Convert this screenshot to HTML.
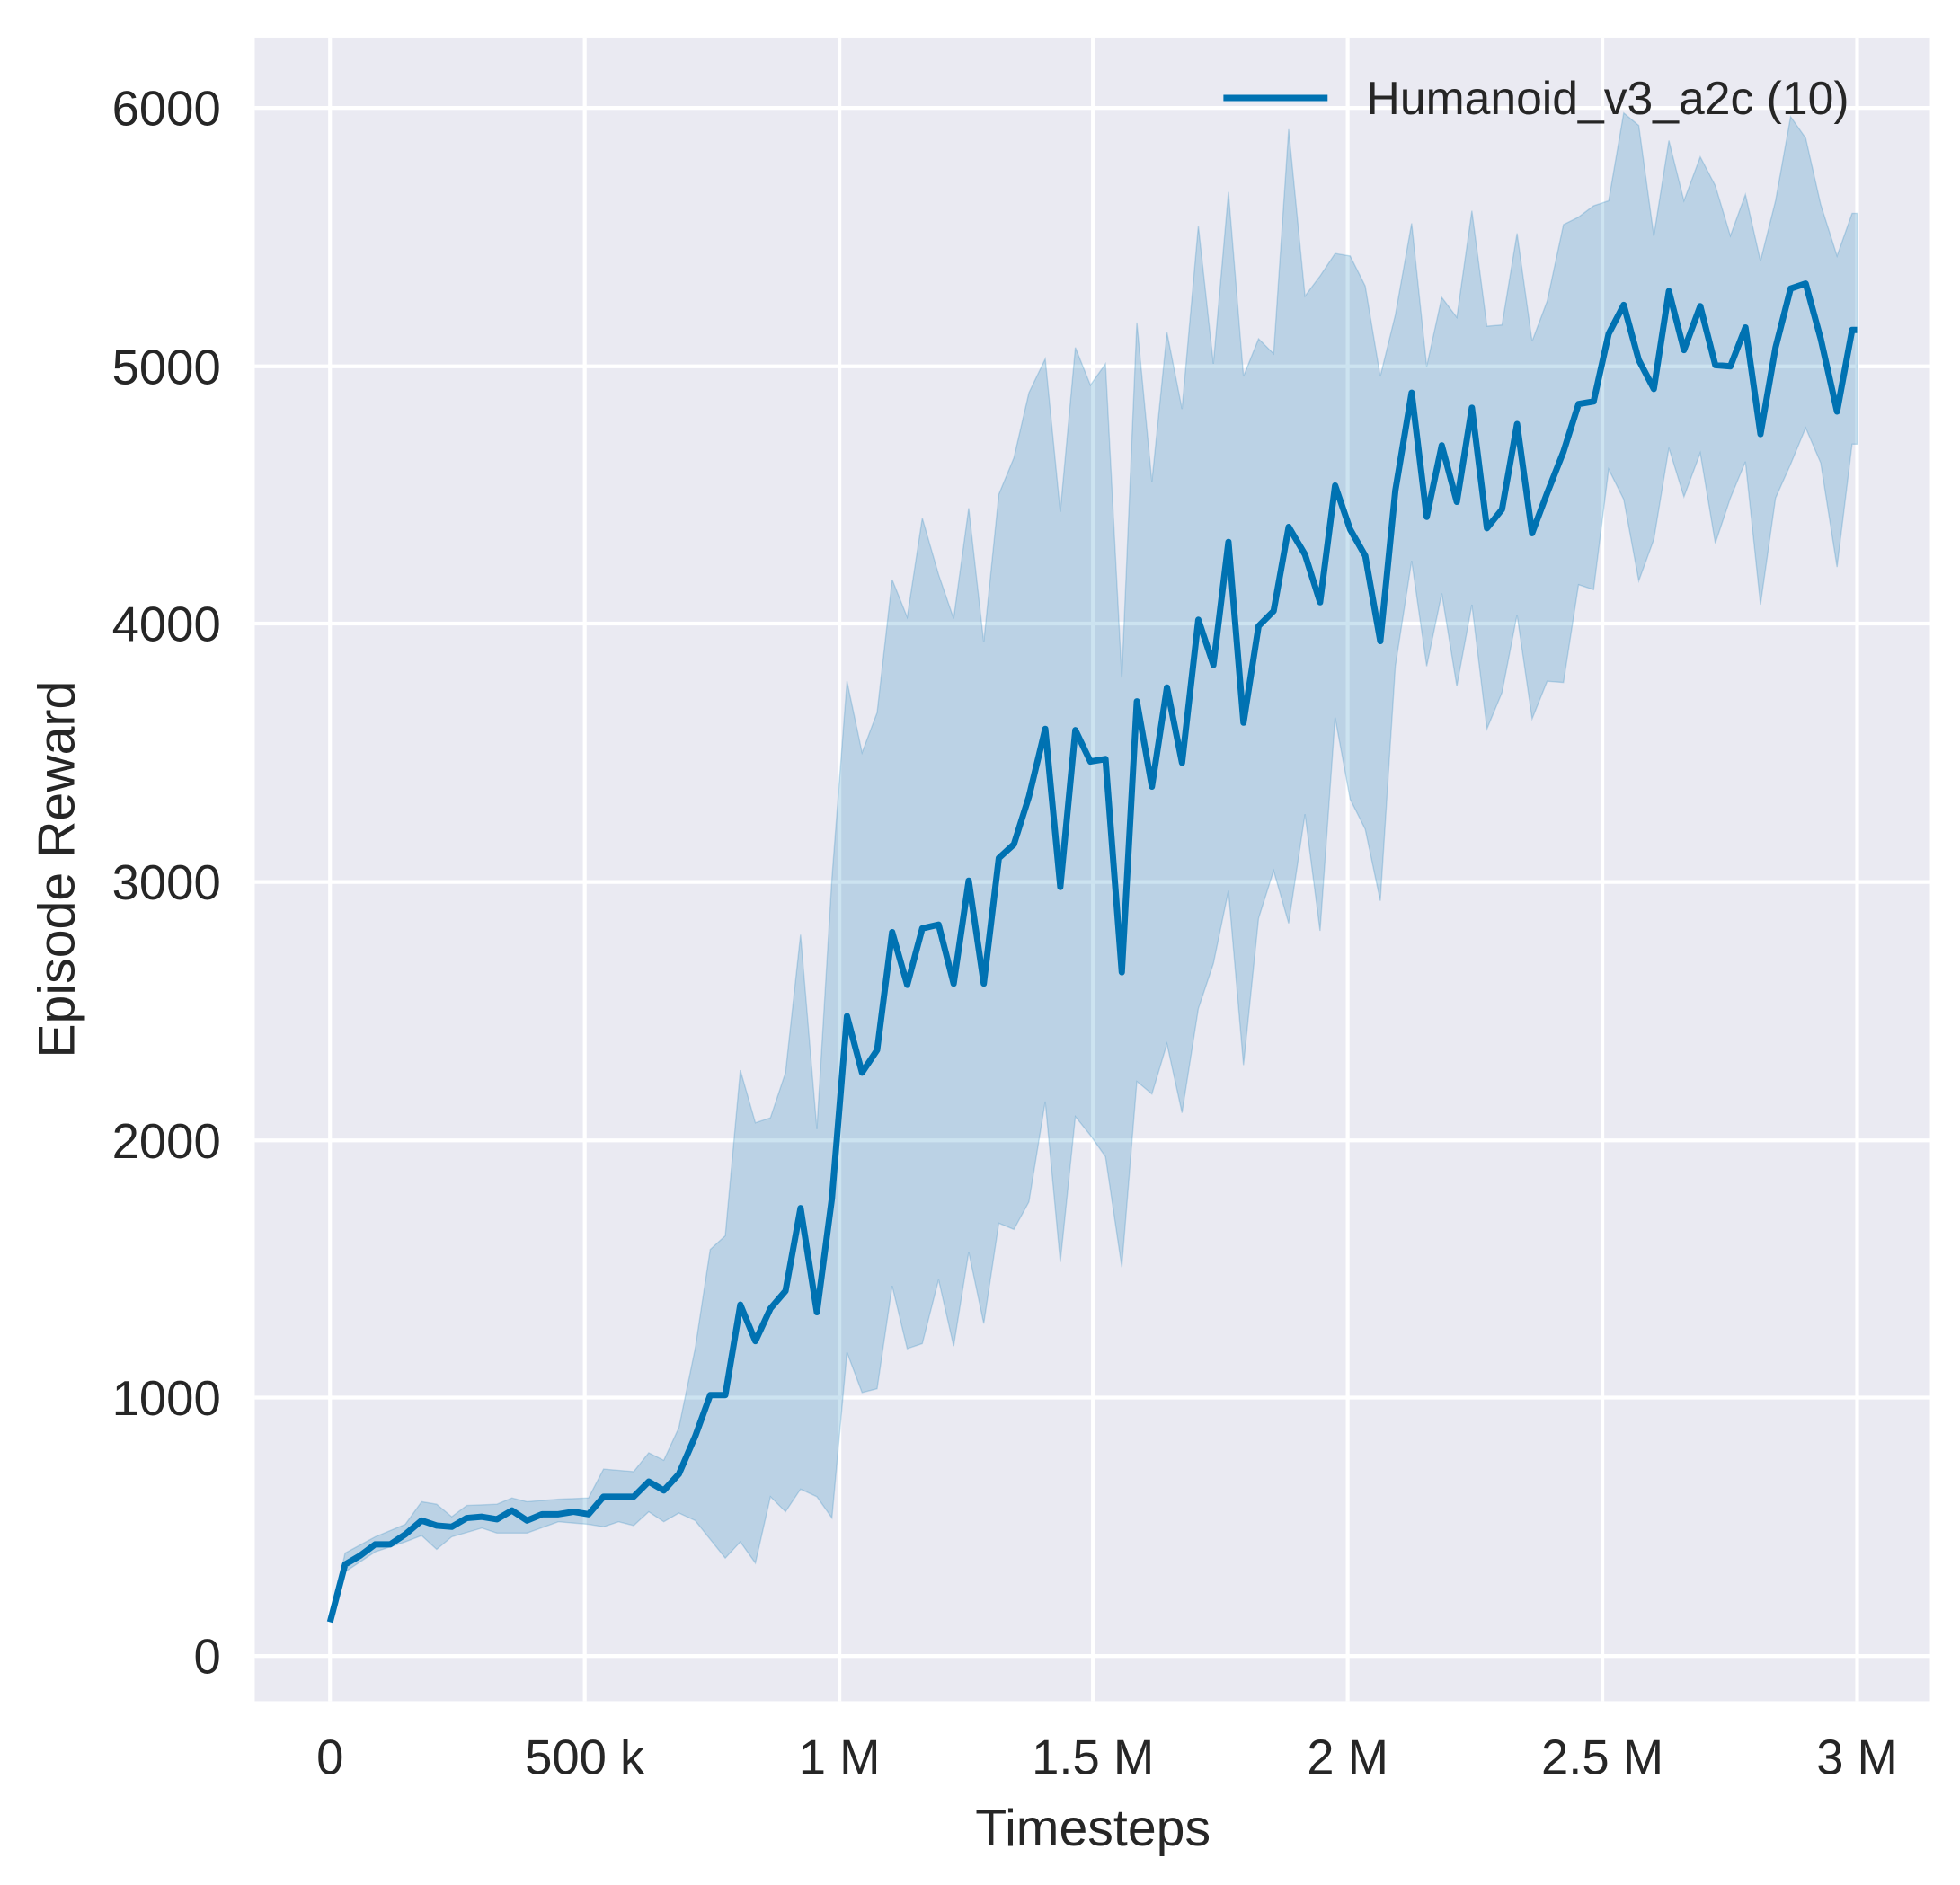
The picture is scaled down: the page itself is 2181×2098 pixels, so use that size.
<!DOCTYPE html>
<html><head><meta charset="utf-8"><style>html,body{margin:0;padding:0;background:#fff}svg{display:block}</style></head>
<body>
<svg width="2181" height="2098" viewBox="0 0 1562 1502.5" xmlns="http://www.w3.org/2000/svg" font-family="Liberation Sans, sans-serif" fill="#262626">
<rect x="0" y="0" width="1562" height="1503" fill="#fff"/>
<rect x="203" y="30" width="1335" height="1326" fill="#eaeaf2"/>
<g stroke="#fff" stroke-width="3">
<line x1="263" y1="30" x2="263" y2="1356"/><line x1="466" y1="30" x2="466" y2="1356"/><line x1="669" y1="30" x2="669" y2="1356"/><line x1="871" y1="30" x2="871" y2="1356"/><line x1="1074" y1="30" x2="1074" y2="1356"/><line x1="1277" y1="30" x2="1277" y2="1356"/><line x1="1480" y1="30" x2="1480" y2="1356"/>
<line x1="203" y1="1320" x2="1538" y2="1320"/><line x1="203" y1="1114" x2="1538" y2="1114"/><line x1="203" y1="909" x2="1538" y2="909"/><line x1="203" y1="703" x2="1538" y2="703"/><line x1="203" y1="497" x2="1538" y2="497"/><line x1="203" y1="292" x2="1538" y2="292"/><line x1="203" y1="86" x2="1538" y2="86"/>
</g>
<polygon fill="#0072b2" fill-opacity="0.2" stroke="#0072b2" stroke-opacity="0.2" points="263,1293 275,1238 299,1225 323,1215 336,1197 348,1199 360,1209 372,1200 396,1199 408,1194 420,1197 445,1195 469,1194 481,1171 505,1173 517,1158 529,1164 541,1138 554,1075 566,996 578,985 590,853 602,895 614,891 626,855 638,745 651,900 663,700 675,543 687,600 699,568 711,462 723,492 735,413 748,458 760,493 772,405 784,512 796,394 808,365 820,313 833,286 845,408 857,277 869,307 881,290 894,540 906,257 918,384 930,265 942,326 955,180 967,290 979,153 991,300 1003,270 1015,282 1027,103 1040,236 1052,220 1064,202 1076,204 1088,228 1100,300 1112,251 1125,178 1137,292 1149,237 1161,253 1173,168 1185,260 1197,259 1209,186 1221,272 1233,240 1246,179 1258,173 1270,164 1282,160 1294,90 1306,100 1318,188 1330,112 1342,160 1355,125 1367,148 1379,188 1391,155 1403,208 1415,160 1427,93 1439,110 1451,163 1464,204 1476,170 1480,170 1480,354 1476,354 1464,452 1451,369 1439,341 1427,370 1415,397 1403,482 1391,368 1379,397 1367,433 1355,361 1342,396 1330,357 1318,430 1306,463 1294,398 1282,374 1270,470 1258,466 1246,544 1233,543 1221,573 1209,490 1197,552 1185,581 1173,482 1161,547 1149,473 1137,531 1125,447 1112,531 1100,718 1088,661 1076,637 1064,572 1052,742 1040,649 1027,736 1015,694 1003,732 991,849 979,710 967,768 955,804 942,887 930,832 918,872 906,862 894,1010 881,922 869,905 857,890 845,1006 833,878 820,958 808,980 796,975 784,1055 772,998 760,1073 748,1020 735,1071 723,1075 711,1025 699,1107 687,1110 675,1078 663,1210 651,1193 638,1187 626,1205 614,1193 602,1246 590,1229 578,1242 566,1227 554,1212 541,1206 529,1213 517,1205 505,1216 493,1213 481,1217 469,1215 445,1213 420,1222 396,1222 384,1218 360,1225 348,1235 336,1224 323,1229 299,1237 275,1253"/>
<polyline fill="none" stroke="#0072b2" stroke-width="5" stroke-linejoin="round" points="263,1293 275,1247 287,1240 299,1231 311,1231 323,1223 336,1212 348,1216 360,1217 372,1210 384,1209 396,1211 408,1204 420,1212 432,1207 445,1207 457,1205 469,1207 481,1193 493,1193 505,1193 517,1181 529,1188 541,1175 554,1145 566,1112 578,1112 590,1040 602,1069 614,1043 626,1029 638,963 651,1046 663,955 675,810 687,855 699,837 711,743 723,785 735,740 748,737 760,784 772,702 784,784 796,684 808,673 820,635 833,581 845,707 857,582 869,607 881,605 894,775 906,559 918,627 930,548 942,608 955,494 967,530 979,432 991,576 1003,499 1015,487 1027,420 1040,442 1052,480 1064,387 1076,422 1088,443 1100,511 1112,391 1125,313 1137,412 1149,355 1161,400 1173,325 1185,421 1197,406 1209,338 1221,425 1233,393 1246,360 1258,322 1270,320 1282,266 1294,243 1306,287 1318,310 1330,232 1342,279 1355,244 1367,291 1379,292 1391,261 1403,346 1415,277 1427,230 1439,226 1451,270 1464,328 1476,263 1480,263"/>
<g font-size="39" text-anchor="end">
<text x="176" y="1334">0</text><text x="176" y="1128">1000</text><text x="176" y="923">2000</text><text x="176" y="717">3000</text><text x="176" y="511">4000</text><text x="176" y="306">5000</text><text x="176" y="100">6000</text>
</g>
<g font-size="39" text-anchor="middle">
<text x="263" y="1414">0</text><text x="466" y="1414">500 k</text><text x="669" y="1414">1 M</text><text x="871" y="1414">1.5 M</text><text x="1074" y="1414">2 M</text><text x="1277" y="1414">2.5 M</text><text x="1480" y="1414">3 M</text>
<text x="871" y="1471" font-size="41">Timesteps</text>
<text transform="translate(59,693) rotate(-90)" font-size="41">Episode Reward</text>
</g>
<line x1="975" y1="78" x2="1058" y2="78" stroke="#0072b2" stroke-width="5"/>
<text x="1089" y="91" font-size="37">Humanoid_v3_a2c (10)</text>
</svg>
</body></html>
